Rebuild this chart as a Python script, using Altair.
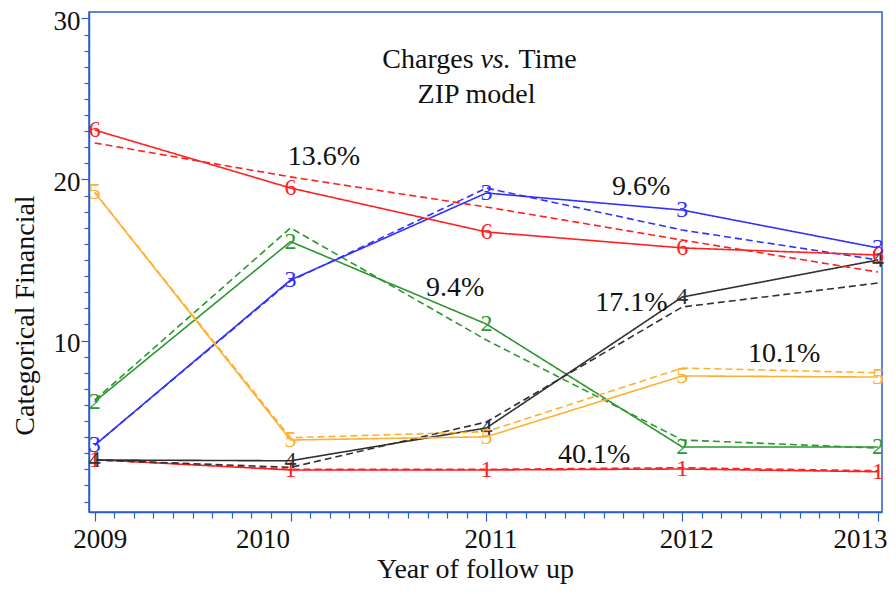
import altair as alt
import pandas as pd

# ---------------- data ----------------
years = [2009, 2010, 2011, 2012, 2013]
groups = ["1", "2", "3", "4", "5", "6"]
colors = ["#ff2020", "#2e962e", "#3030ff", "#303030", "#ffb030", "#ff2020"]

observed = {
    "1": [2.6, 1.96, 1.96, 2.02, 1.85],
    "2": [6.2, 16.14, 11.02, 3.39, 3.39],
    "3": [3.5, 13.76, 19.16, 18.1, 15.75],
    "4": [2.58, 2.53, 4.57, 12.7, 15.0],
    "5": [19.2, 3.82, 4.02, 7.8, 7.73],
    "6": [23.07, 19.47, 16.74, 15.75, 15.31],
}
predicted = {
    "1": [2.6, 2.0, 2.0, 2.1, 1.91],
    "2": [6.3, 16.99, 10.03, 3.82, 3.32],
    "3": [3.5, 13.7, 19.47, 16.86, 15.0],
    "4": [2.58, 2.12, 4.94, 12.08, 13.57],
    "5": [19.2, 3.96, 4.34, 8.29, 8.0],
    "6": [22.27, 20.16, 18.29, 16.24, 14.25],
}

pct_text = ["13.6%", "9.6%", "9.4%", "17.1%", "10.1%", "40.1%"]
pct_x = [2010.17, 2011.79, 2010.84, 2011.74, 2012.52, 2011.55]
pct_y = [21.4, 19.53, 13.26, 12.33, 9.16, 2.89]

title_x = 2010.95
title_y = [27.4, 25.25]

# ---------------- tables ----------------
rows = []
for g in groups:
    for yr, v in zip(years, observed[g]):
        rows.append({"x": yr, "y": v, "group": g, "kind": "Observed"})
    for yr, v in zip(years, predicted[g]):
        rows.append({"x": yr, "y": v, "group": g, "kind": "Predicted"})
df = pd.DataFrame(rows)
df["series"] = df["group"] + "_" + df["kind"]
obs_df = df[df["kind"] == "Observed"]

pct_df = pd.DataFrame({"x": pct_x, "y": pct_y, "text": pct_text})

FONT = "Liberation Serif"
FRAME = "#2b5fc7"

x_ticks = [round(2009 + i / 10, 1) for i in range(41)]
y_ticks = list(range(0, 31))

x_scale = alt.Scale(domain=[2008.971, 2013.02], nice=False, zero=False)
y_scale = alt.Scale(domain=[-0.65, 30.4], nice=False, zero=False)

X_MAJOR = "abs(datum.value - round(datum.value)) < 0.01"
Y_MAJOR = "datum.value > 0 && datum.value % 10 === 0"

x_axis = alt.Axis(
    title="Year of follow up",
    values=x_ticks,
    labelExpr=X_MAJOR + " ? format(datum.value, 'd') : ''",
    labelOverlap=False,
    labelFlush=False,
    labelBound=False,
    labelOffset={
        "condition": [
            {"test": "datum.value < 2009.05", "value": 5},
            {"test": "abs(datum.value - 2010) < 0.01", "value": -28},
            {"test": "datum.value > 2012.95", "value": -18},
        ],
        "value": 4,
    },
    tickSize={"condition": {"test": X_MAJOR, "value": 9}, "value": 6},
    labelPadding=5,
    titlePadding=3,
    titleX=386,
    grid=False,
)
y_axis = alt.Axis(
    title="Categorical Financial",
    values=y_ticks,
    labelExpr=Y_MAJOR + " ? format(datum.value, 'd') : ''",
    labelOverlap=False,
    labelFlush=False,
    labelOffset=3,
    tickSize={"condition": {"test": Y_MAJOR, "value": 8}, "value": 5},
    labelPadding=1,
    titlePadding=14,
    titleY=303,
    grid=False,
)


def X():
    return alt.X("x:Q", scale=x_scale, axis=x_axis)


def Y():
    return alt.Y("y:Q", scale=y_scale, axis=y_axis)


color_scale = alt.Scale(domain=groups, range=colors)

lines = alt.Chart(df).mark_line(strokeWidth=1.6).encode(
    x=X(),
    y=Y(),
    color=alt.Color("group:N", scale=color_scale, legend=None),
    strokeDash=alt.StrokeDash(
        "kind:N",
        scale=alt.Scale(domain=["Observed", "Predicted"], range=[[1, 0], [7, 4]]),
        legend=None,
    ),
    detail="series:N",
)

markers = alt.Chart(obs_df).mark_text(
    font="Liberation Sans Narrow", fontSize=24, baseline="middle", align="center"
).encode(
    x=X(),
    y=Y(),
    text="group:N",
    color=alt.Color("group:N", scale=color_scale, legend=None),
)

pcts = alt.Chart(pct_df).mark_text(
    font=FONT, fontSize=28, color="#111111", baseline="middle", align="center"
).encode(
    x=X(),
    y=Y(),
    text="text:N",
)

t_df1 = pd.DataFrame({"x": [title_x], "y": [title_y[0]]})
t_df2 = pd.DataFrame({"x": [title_x], "y": [title_y[1]]})


def title_part(data, txt, align, dx, style="normal"):
    return alt.Chart(data).mark_text(
        text=txt, font=FONT, fontSize=28, color="#111111",
        baseline="middle", align=align, dx=dx, fontStyle=style,
    ).encode(x=X(), y=Y())


title1a = title_part(t_df1, "Charges", "right", -3)
title1b = title_part(t_df1, "vs.", "center", 19, "italic")
title1c = title_part(t_df1, "Time", "left", 42)
title2 = title_part(t_df2, "ZIP model", "center", 0)

chart = alt.layer(lines, markers, pcts, title1a, title1b, title1c, title2).properties(
    width=793,
    height=500,
    autosize=alt.AutoSizeParams(type="none"),
    padding={"left": 81, "top": 4, "right": 6, "bottom": 74},
).configure_view(
    stroke=FRAME, strokeWidth=1.5
).configure_axis(
    domainColor=FRAME,
    domainWidth=1.5,
    tickColor=FRAME,
    tickWidth=1.2,
    labelFont=FONT,
    labelFontSize=27,
    labelColor="#111111",
    titleFont=FONT,
    titleFontSize=28,
    titleFontWeight="normal",
    titleColor="#111111",
)

chart.save("out.html", embed_options={"renderer": "svg", "actions": False})
